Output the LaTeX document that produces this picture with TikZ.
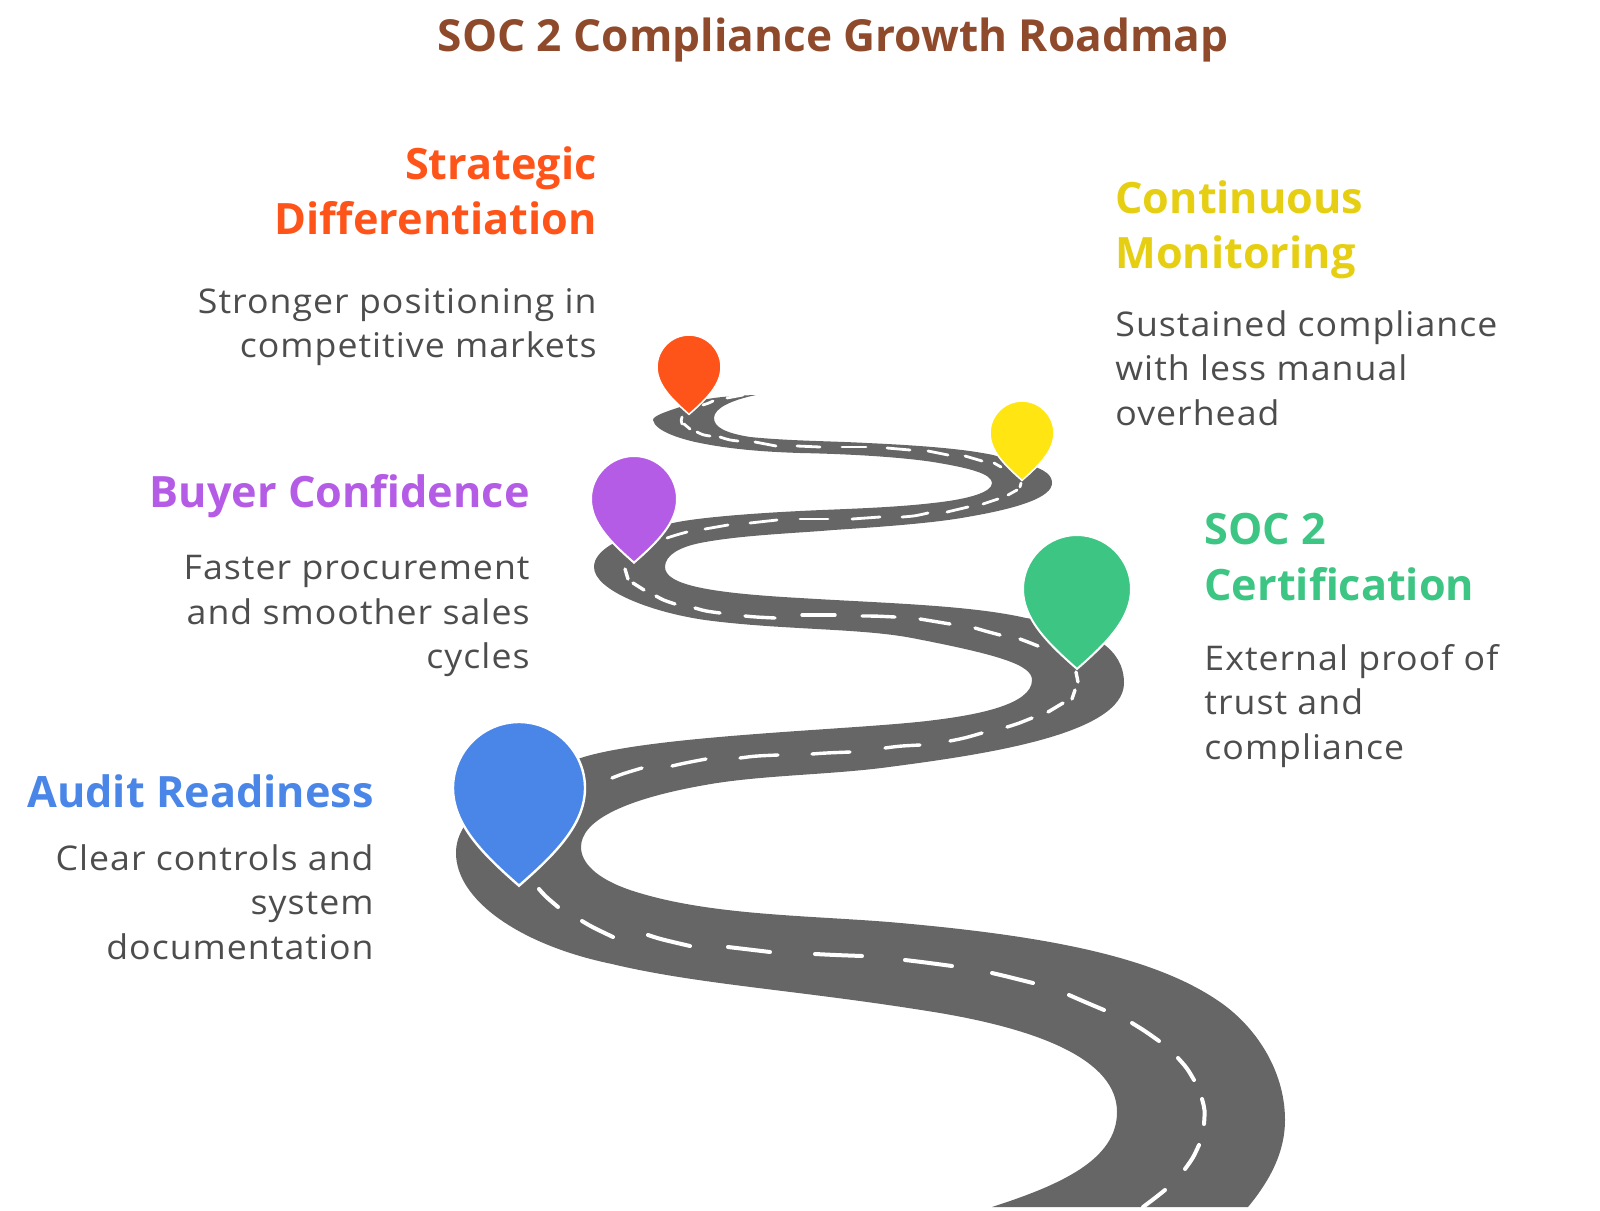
\documentclass[tikz,border=0pt]{standalone}
\usepackage{fontspec}
\setmainfont{Open Sans}
\newfontfamily\bodyfont[FakeStretch=1.05, LetterSpace=3]{Open Sans}
\definecolor{roadgray}{HTML}{666666}
\definecolor{bodygray}{HTML}{4D4D4D}
\definecolor{titlebrown}{HTML}{8F4A2C}
\definecolor{auditblue}{HTML}{4A86E8}
\definecolor{certgreen}{HTML}{3CC583}
\definecolor{buyerpurple}{HTML}{B55CE6}
\definecolor{monitoryellow}{HTML}{FFE612}
\definecolor{monitortext}{HTML}{E6CF13}
\definecolor{strategyred}{HTML}{FF5419}
\tikzset{
  headtext/.style={inner sep=0pt, font=\fontsize{21.6}{27.8}\selectfont\bfseries},
  bodytext/.style={inner sep=0pt, text=bodygray, font=\bodyfont\fontsize{17}{22.2}\selectfont},
  laneline/.style={draw=white, line cap=round},
  mappin/.pic={
    \path[draw=white, pic actions] (0,0) .. controls (.55,0) and (1,.45) .. (1,1)
      .. controls (1,1.55) and (.55,2) .. (0,2.48)
      .. controls (-.55,2) and (-1,1.55) .. (-1,1)
      .. controls (-1,.45) and (-.55,0) .. (0,0) -- cycle;
  }
}
\begin{document}
\begin{tikzpicture}[x=0.5pt, y=-0.5pt]
  \useasboundingbox (0,0) rectangle (1600,1210);

  % road
  \fill[roadgray] (1248,1207) .. controls (1272,1178) and (1285,1150) .. (1285,1120)
    .. controls (1285,1070) and (1255,1025) .. (1217,1000)
    .. controls (1150,955) and (1040,935) .. (889,922)
    .. controls (800,915) and (705,915) .. (630,890)
    .. controls (595,878) and (581,862) .. (581,847)
    .. controls (581,822) and (620,800) .. (705,785)
    .. controls (760,775) and (830,775) .. (889,767)
    .. controls (980,755) and (1124,735) .. (1124,683)
    .. controls (1124,660) and (1110,630) .. (1026,618)
    .. controls (970,605) and (880,603) .. (800,598)
    .. controls (710,593) and (665,585) .. (665,567)
    .. controls (665,555) and (680,547) .. (700,543)
    .. controls (740,535) and (800,533) .. (833,530)
    .. controls (880,527) and (935,523) .. (967,517)
    .. controls (1020,508) and (1052,497) .. (1052,483)
    .. controls (1052,475) and (1045,470) .. (1030,465)
    .. controls (1010,459) and (1000,457) .. (993,455)
    .. controls (960,448) and (910,445) .. (867,443)
    .. controls (830,441) and (790,441) .. (750,437)
    .. controls (725,433) and (714,427) .. (714,418)
    .. controls (714,408) and (732,400) .. (756,395)
    .. controls (725,396) and (700,398) .. (680,407)
    .. controls (665,412) and (653,416) .. (653,420)
    .. controls (655,432) and (685,440) .. (700,443)
    .. controls (735,450) and (770,452) .. (800,453)
    .. controls (850,454) and (900,457) .. (933,462)
    .. controls (970,468) and (992,474) .. (992,483)
    .. controls (992,492) and (970,499) .. (933,503)
    .. controls (890,508) and (840,509) .. (800,511)
    .. controls (760,513) and (700,517) .. (673,523)
    .. controls (620,535) and (594,550) .. (594,567)
    .. controls (594,590) and (650,612) .. (705,620)
    .. controls (780,630) and (860,628) .. (912,638)
    .. controls (1000,655) and (1032,665) .. (1032,680)
    .. controls (1032,705) and (975,715) .. (935,720)
    .. controls (860,730) and (640,735) .. (575,760)
    .. controls (500,790) and (456,815) .. (456,853)
    .. controls (456,900) and (520,945) .. (612,964)
    .. controls (700,985) and (800,990) .. (940,1013)
    .. controls (1040,1030) and (1117,1060) .. (1117,1112)
    .. controls (1117,1160) and (1060,1185) .. (992,1207) -- cycle;

  % lane marks, they get longer toward the viewer
  \foreach \xa/\ya/\xm/\ym/\xb/\yb in {
    727/398/735/396/743/395, 703/405/709/403/713/401,
    682/417/681/420/682/424, 684/424/687/427/690/429,
    697/432/703/435/710/436, 720/437/729/440/738/441,
    755/442/766/444/776/446, 797/446/809/447/820/447,
    842/447/854/447/866/447, 887/448/899/449/910/450,
    928/451/938/453/948/455, 965/456/974/459/982/461,
    994/463/998/465/1001/467, 1021/483/1021/485/1020/487,
    1008/495/1012/493/1017/490, 983/504/991/501/998/499,
    947/512/958/510/968/507, 902/517/915/516/928/513,
    852/519/866/518/880/517, 800/519/814/519/828/519,
    750/523/763/521/777/520, 705/529/716/527/728/525,
    667/538/676/535/687/532}
    \draw[laneline, line width=1.4pt] (\xa,\ya) .. controls (\xm,\ym) .. (\xb,\yb);
  \foreach \xa/\ya/\xm/\ym/\xb/\yb in {
    625/569/626/574/628/579, 633/583/638/587/644/590,
    656/596/663/600/675/604, 695/608/705/611/720/613,
    745/616/755/617/775/618, 802/615/815/615/835/615,
    862/616/875/616/895/617, 920/619/935/622/950/624,
    975/628/985/631/1000/635, 1020/639/1028/642/1038/646,
    1076/672/1077/677/1078/682, 1075/690/1074/695/1072/699,
    1048/712/1055/708/1063/703, 1007/727/1017/724/1032/718,
    950/741/965/738/982/733, 885/748/900/746/920/745,
    812/754/825/753/850/752, 740/758/755/756/778/755,
    672/766/685/763/706/759, 612/778/622/774/642/768}
    \draw[laneline, line width=1.7pt] (\xa,\ya) .. controls (\xm,\ym) .. (\xb,\yb);
  \foreach \xa/\ya/\xm/\ym/\xb/\yb in {
    539/889/545/896/558/907, 582/921/592/927/613/937,
    648/935/660/939/690/946, 728/947/745/949/770/952,
    815/954/835/955/862/956, 905/960/922/962/952/966,
    992/973/1005/976/1033/983, 1069/995/1085/1002/1104/1010,
    1132/1023/1145/1031/1159/1041, 1178/1058/1187/1068/1194/1080,
    1202/1099/1205/1110/1204/1124, 1199/1145/1193/1158/1185/1169,
    1165/1190/1155/1198/1143/1207}
    \draw[laneline, line width=2pt] (\xa,\ya) .. controls (\xm,\ym) .. (\xb,\yb);

  % pins
  \pic[fill=auditblue, scale=66, line width=1.2pt] at (519,722) {mappin};
  \pic[fill=certgreen, scale=54, line width=1pt] at (1077,535) {mappin};
  \pic[fill=buyerpurple, scale=43, line width=1pt] at (634,456) {mappin};
  \pic[fill=monitoryellow, scale=32, line width=.8pt] at (1022,401) {mappin};
  \pic[fill=strategyred, scale=32, line width=.8pt] at (689,335) {mappin};

  % texts
  \node[text=titlebrown, inner sep=0pt, font=\fontsize{22.1}{26}\selectfont\bfseries] (title) at (833,40) {SOC 2 Compliance Growth Roadmap};

  \node[headtext, text=strategyred, align=right, anchor=north east] (strategichead) at (597,146) {Strategic\\Differentiation};
  \node[bodytext, align=right, anchor=north east] (strategicbody) at (597,288) {Stronger positioning in\\competitive markets};

  \node[headtext, text=monitortext, align=left, anchor=north west] (monitorhead) at (1115,180) {Continuous\\Monitoring};
  \node[bodytext, align=left, anchor=north west] (monitorbody) at (1115,310) {Sustained compliance\\with less manual\\overhead};

  \node[headtext, text=buyerpurple, align=right, anchor=north east] (buyerhead) at (530,474) {Buyer Confidence};
  \node[bodytext, align=right, anchor=north east] (buyerbody) at (530,555) {Faster procurement\\and smoother sales\\cycles};

  \node[headtext, text=certgreen, align=left, anchor=north west] (certhead) at (1204,513) {SOC 2\\Certification};
  \node[bodytext, align=left, anchor=north west] (certbody) at (1204,644) {External proof of\\trust and\\compliance};

  \node[headtext, text=auditblue, align=right, anchor=north east] (audithead) at (374,774) {Audit Readiness};
  \node[bodytext, align=right, anchor=north east] (auditbody) at (374,844) {Clear controls and\\system\\documentation};
\end{tikzpicture}
\end{document}
